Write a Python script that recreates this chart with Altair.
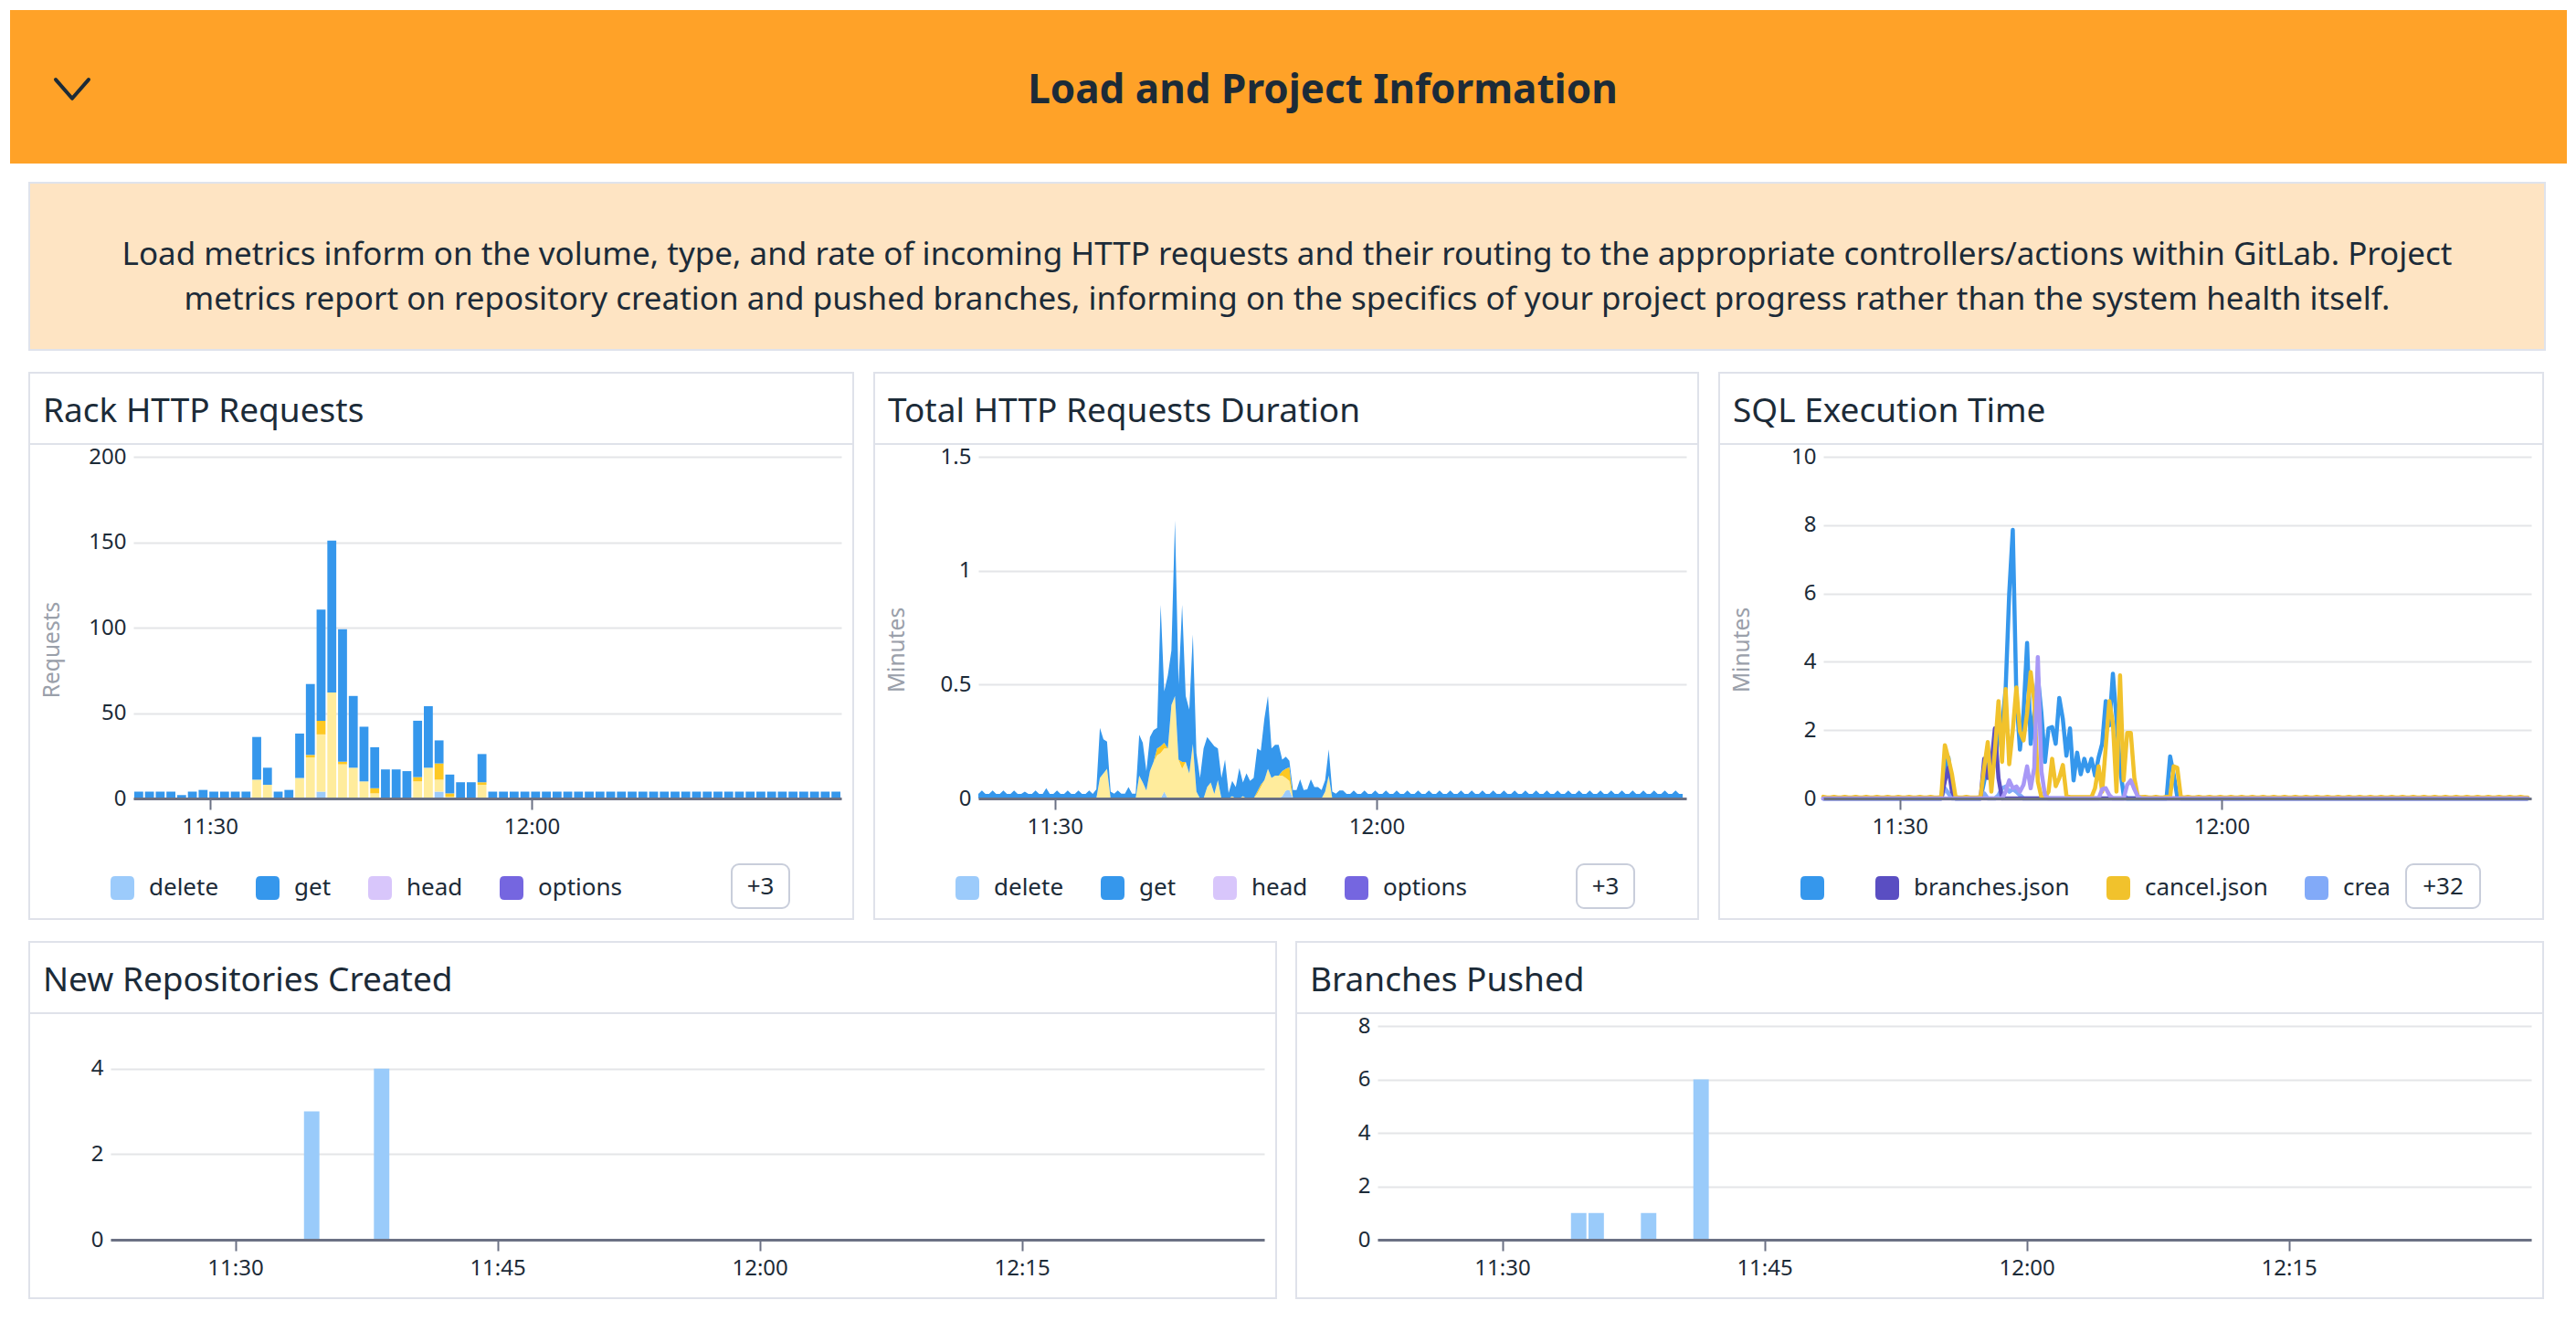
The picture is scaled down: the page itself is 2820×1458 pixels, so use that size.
import altair as alt
import pandas as pd

# ---------------------------------------------------------------- styling
FONT = "Noto Sans"
DARK = "#1c2b38"
GRAYTXT = "#9aa0aa"
BORDER = "#dfe2ea"
GRID = "#e4e5e8"
AXISC = "#6b7184"
ORANGE = "#ffa228"
NOTE_BG = "#fee4c3"
NOTE_BORDER = "#dfe3ec"
BTN_BORDER = "#c9cedb"
BAR_BLUE = "#9acbfa"

# ---------------------------------------------------------------- texts
HEADER_TITLE = "Load and Project Information"
NOTE_LINES = [
    "Load metrics inform on the volume, type, and rate of incoming HTTP requests and their routing to the appropriate controllers/actions within GitLab. Project",
    "metrics report on repository creation and pushed branches, informing on the specifics of your project progress rather than the system health itself.",
]
PANEL_TITLES = ["Rack HTTP Requests", "Total HTTP Requests Duration", "SQL Execution Time",
                "New Repositories Created", "Branches Pushed"]

# ---------------------------------------------------------------- time grid
START = pd.Timestamp("2024-05-14 11:22:52")
N_MIN = 66
minute_starts = list(pd.date_range(START, periods=N_MIN, freq="1min"))
sample_times = list(pd.date_range(START, periods=3 * N_MIN, freq="20s"))


def dt(h, m, s=0):
    return alt.DateTime(year=2024, month=5, date=14, hours=h, minutes=m, seconds=s)


X_DOMAIN = [dt(11, 22, 52), dt(12, 28, 52)]
TOP_TICKS = [dt(11, 30), dt(12, 0)]
BOTTOM_TICKS = [dt(11, 30), dt(11, 45), dt(12, 0), dt(12, 15)]

# ---------------------------------------------------------------- categories
METHODS = ["delete", "get", "head", "options", "patch", "post", "put"]
METHOD_COLORS = ["#9ccbfb", "#3597ec", "#d8c6fb", "#7566e0", "#57c2b9", "#ffec9c", "#fdc823"]
METHOD_LEGEND = ["delete", "get", "head", "options"]

SQL_SERIES = ["", "branches.json", "cancel.json", "create.json", "show.json"]
SQL_COLORS = ["#3597ec", "#5a4ec2", "#f1c22c", "#82aaf8", "#a898f6"]
SQL_LEGEND = ["", "branches.json", "cancel.json", "create.json"]
SQL_DRAW_ORDER = ["", "create.json", "branches.json", "cancel.json", "show.json"]

# ---------------------------------------------------------------- Rack HTTP Requests (per minute)
rack_get = [
    4, 4, 4, 4, 2, 4, 5, 4, 4, 4, 4,
    25, 10, 4, 5, 26, 41.5, 65, 89, 77.5, 42, 32, 24, 17, 17, 16, 33, 36, 13.5, 11, 9.5, 9.5, 16.5,
    4, 4, 4, 4, 4, 4, 4, 4, 4, 4, 4, 4, 4, 4, 4, 4, 4, 4, 4, 4, 4, 4, 4, 4, 4, 4, 4, 4, 4, 4, 4, 4, 4,
]
rack_post = {11: 11, 12: 8, 15: 12, 16: 24, 17: 33.5, 18: 62, 19: 20, 20: 18, 21: 10, 22: 3,
             26: 10, 27: 18, 28: 7, 29: 1, 32: 8}
rack_put = {16: 1.5, 17: 8, 19: 1.5, 22: 3, 26: 2.5, 28: 9.5, 29: 2, 32: 1.5}
rack_delete = {17: 4, 28: 4}

# ---------------------------------------------------------------- Total HTTP Requests Duration (20 s samples)
dur_total = [
    0.02, 0.035, 0.02,  0.02, 0.035, 0.02,  0.02, 0.035, 0.02,  0.02, 0.035, 0.02,
    0.02, 0.03, 0.02,   0.02, 0.035, 0.02,  0.02, 0.045, 0.02,  0.02, 0.035, 0.02,
    0.02, 0.035, 0.02,  0.02, 0.035, 0.02,  0.02, 0.035, 0.02,
    0.04, 0.31, 0.26,   0.25, 0.03, 0.021,  0.035, 0.021, 0.021,  0.05, 0.021, 0.021,
    0.28, 0.245, 0.12,  0.27, 0.30, 0.31,   0.85, 0.47, 0.54,   0.65, 1.22, 0.50,
    0.85, 0.45, 0.39,   0.72, 0.20, 0.09,   0.22, 0.27, 0.25,   0.23, 0.22, 0.09,
    0.17, 0.024, 0.077, 0.05, 0.133, 0.07,  0.11, 0.077, 0.09,  0.22, 0.21, 0.35,
    0.45, 0.22, 0.236,  0.236, 0.17, 0.183, 0.165, 0.037, 0.037, 0.084, 0.037, 0.04,
    0.084, 0.05, 0.05,  0.037, 0.08, 0.216, 0.03, 0.021, 0.035,
    0.035, 0.02, 0.02,  0.035, 0.02, 0.02,  0.035, 0.02, 0.02,  0.035, 0.02, 0.02,
    0.035, 0.02, 0.02,  0.035, 0.02, 0.02,  0.035, 0.02, 0.02,  0.035, 0.02, 0.02,
    0.035, 0.02, 0.02,  0.035, 0.02, 0.02,  0.035, 0.02, 0.02,  0.035, 0.02, 0.02,
    0.035, 0.02, 0.02,  0.035, 0.02, 0.02,  0.035, 0.02, 0.02,  0.035, 0.02, 0.02,
    0.035, 0.02, 0.02,  0.035, 0.02, 0.02,  0.035, 0.02, 0.02,  0.035, 0.02, 0.02,
    0.035, 0.02, 0.02,  0.035, 0.02, 0.02,  0.035, 0.02, 0.02,  0.035, 0.02, 0.02,
    0.035, 0.02, 0.02,  0.035, 0.02, 0.02,  0.035, 0.02, 0.02,  0.035, 0.02, 0.02,
    0.035, 0.02, 0.02,  0.035, 0.02, 0.02,  0.035, 0.02, 0.02,  0.035, 0.02, 0.02,
]
dur_post = {34: 0.09, 35: 0.11, 36: 0.13, 45: 0.10, 46: 0.07, 47: 0.035, 48: 0.12, 49: 0.16,
            50: 0.19, 51: 0.20, 52: 0.19, 53: 0.22, 54: 0.41, 55: 0.45, 56: 0.17, 57: 0.13,
            58: 0.16, 59: 0.11, 60: 0.24, 61: 0.03, 64: 0.05, 65: 0.07, 66: 0.02, 67: 0.08,
            71: 0.01, 74: 0.01, 78: 0.02, 79: 0.05, 80: 0.08, 81: 0.13, 82: 0.09, 83: 0.10,
            84: 0.10, 85: 0.09, 86: 0.055, 87: 0.04, 97: 0.03, 98: 0.10}
dur_put = {50: 0.03, 51: 0.03, 52: 0.025, 57: 0.03, 78: 0.01, 79: 0.01, 85: 0.02, 86: 0.04, 87: 0.06}
dur_delete = {52: 0.03, 85: 0.01, 86: 0.035, 87: 0.037}

# ---------------------------------------------------------------- SQL Execution Time (20 s samples)
sql_blank = {34: 0.9, 35: 1.2, 36: 0.3, 45: 0.5, 46: 1.0, 47: 0.6, 48: 1.2, 49: 1.8, 50: 2.1,
             51: 3.2, 52: 6.0, 53: 7.86, 54: 3.0, 55: 1.43, 56: 2.5, 57: 4.55, 58: 1.6, 59: 2.5,
             60: 3.57, 61: 2.5, 62: 1.07, 63: 2.05, 64: 2.09, 65: 1.6, 66: 2.94, 67: 2.32,
             68: 1.25, 69: 2.05, 70: 0.53, 71: 1.34, 72: 0.71, 73: 1.16, 74: 0.8, 75: 1.16,
             76: 0.67, 77: 1.2, 78: 1.6, 79: 2.85, 80: 2.14, 81: 3.65, 82: 2.32, 83: 0.9,
             84: 0.1, 97: 1.23, 98: 0.7, 99: 0.05}
sql_branches = {34: 0.5, 35: 0.9, 36: 0.2, 45: 1.16, 46: 0.6, 47: 1.0, 48: 2.05, 49: 0.6}
sql_create = {34: 0.3, 35: 0.15, 45: 0.15, 49: 0.1, 50: 0.3, 51: 0.35, 52: 0.2, 53: 0.27,
              54: 0.2, 55: 0.1}
sql_show = {51: 0.2, 52: 0.53, 53: 0.3, 54: 0.35, 55: 0.2, 56: 0.4, 57: 0.94, 58: 0.3,
            59: 0.9, 60: 4.14, 61: 0.8, 62: 0.1, 78: 0.27, 79: 0.3, 80: 0.1, 85: 0.4,
            86: 0.53, 87: 0.27, 88: 0.05}
sql_cancel = [
    0.05, 0.03, 0.03,  0.05, 0.03, 0.03,  0.05, 0.03, 0.03,  0.05, 0.03, 0.03,
    0.05, 0.03, 0.03,  0.05, 0.03, 0.03,  0.05, 0.03, 0.03,  0.05, 0.03, 0.03,
    0.05, 0.03, 0.03,  0.05, 0.03, 0.03,  0.05, 0.03, 0.03,
    0.05, 1.56, 1.16,  0.7, 0.04, 0.03,   0.03, 0.05, 0.03,  0.03, 0.03, 0.05,
    0.9, 1.65, 0.2,    1.4, 2.85, 1.07,   3.2, 1.0, 2.0,     3.25, 1.96, 1.7,
    2.5, 3.7, 2.85,    0.5, 0.04, 0.04,   0.2, 1.16, 0.36,   0.6, 0.98, 0.09,
    0.04, 0.04, 0.04,  0.04, 0.04, 0.04,  0.04, 0.3, 0.94,   0.2, 1.5, 2.85,
    2.2, 0.2, 3.6,     0.53, 1.92, 1.92,  0.6, 0.04, 0.04,   0.05, 0.03, 0.03,
    0.05, 0.03, 0.03,  0.05, 0.04, 0.94,  0.9, 0.04, 0.03,
    0.05, 0.03, 0.03,  0.05, 0.03, 0.03,  0.05, 0.03, 0.03,  0.05, 0.03, 0.03,
    0.05, 0.03, 0.03,  0.05, 0.03, 0.03,  0.05, 0.03, 0.03,  0.05, 0.03, 0.03,
    0.05, 0.03, 0.03,  0.05, 0.03, 0.03,  0.05, 0.03, 0.03,  0.05, 0.03, 0.03,
    0.05, 0.03, 0.03,  0.05, 0.03, 0.03,  0.05, 0.03, 0.03,  0.05, 0.03, 0.03,
    0.05, 0.03, 0.03,  0.05, 0.03, 0.03,  0.05, 0.03, 0.03,  0.05, 0.03, 0.03,
    0.05, 0.03, 0.03,  0.05, 0.03, 0.03,  0.05, 0.03, 0.03,  0.05, 0.03, 0.03,
    0.05, 0.03, 0.03,  0.05, 0.03, 0.03,  0.05, 0.03, 0.03,  0.05, 0.03, 0.03,
    0.05, 0.03, 0.03,  0.05, 0.03, 0.03,  0.05, 0.03, 0.03,  0.05, 0.03, 0.03,
]

# ---------------------------------------------------------------- project counts (per minute)
new_repos = {11: 3, 15: 4}
branches_pushed = {11: 1, 12: 1, 15: 1, 18: 6}


def sparse(d, n):
    return [d.get(i, 0) for i in range(n)]


# ---------------------------------------------------------------- tables
def stacked_rows(times, order, series, off0, off1, keep_zero):
    rows = []
    for k, t in enumerate(times):
        base = 0.0
        for name in order:
            v = series[name][k]
            if v > 0 or keep_zero:
                rows.append({"t0": t + off0, "t1": t + off1, "series": name,
                             "y0": base, "y1": base + v})
            base += v
    return pd.DataFrame(rows)


rack_series = {"delete": sparse(rack_delete, N_MIN), "post": sparse(rack_post, N_MIN),
               "put": sparse(rack_put, N_MIN), "get": rack_get}
rack_df = stacked_rows(minute_starts, ["delete", "post", "put", "get"], rack_series,
                       pd.Timedelta(seconds=5), pd.Timedelta(seconds=55), False)

n_s = 3 * N_MIN
d_del, d_post, d_put = sparse(dur_delete, n_s), sparse(dur_post, n_s), sparse(dur_put, n_s)
d_get = [max(tot - a - b - c, 0.004) for tot, a, b, c in zip(dur_total, d_del, d_post, d_put)]
dur_series = {"delete": d_del, "post": d_post, "put": d_put, "get": d_get}
dur_df = stacked_rows(sample_times, ["delete", "post", "put", "get"], dur_series,
                      pd.Timedelta(0), pd.Timedelta(0), True)

sql_values = {"": sparse(sql_blank, n_s), "branches.json": sparse(sql_branches, n_s),
              "cancel.json": sql_cancel, "create.json": sparse(sql_create, n_s),
              "show.json": sparse(sql_show, n_s)}


def count_df(d):
    return pd.DataFrame([{"t0": minute_starts[k] + pd.Timedelta(seconds=4),
                          "t1": minute_starts[k] + pd.Timedelta(seconds=57), "v": v}
                         for k, v in d.items()])


# ---------------------------------------------------------------- guides
ROUNDED = "M-1,-0.6 Q-1,-1 -0.6,-1 L0.6,-1 Q1,-1 1,-0.6 L1,0.6 Q1,1 0.6,1 L-0.6,1 Q-1,1 -1,0.6 Z"


def x_axis(ticks):
    return alt.Axis(values=ticks, format="%H:%M", title=None, grid=False, labelFontSize=24,
                    labelColor=DARK, labelFont=FONT, tickSize=12, tickColor=AXISC, tickWidth=2,
                    domainColor=AXISC, domainWidth=3, labelPadding=7, zindex=1)


def y_axis(ticks, title=None):
    kw = dict(values=ticks, grid=True, gridColor=GRID, gridWidth=2, domain=False, ticks=False,
              labelFontSize=24, labelColor=DARK, labelFont=FONT, labelPadding=8, format="~r")
    if title:
        kw.update(title=title, titleFontSize=24.5, titleColor=GRAYTXT, titleFont=FONT,
                  titleFontWeight="normal", titleX=-89, titleY=211, titleAngle=270,
                  titleAlign="center", titleBaseline="middle")
    else:
        kw.update(title=None)
    return alt.Axis(**kw)


def legend(values, label_expr=None):
    kw = dict(values=values, orient="none", legendX=-25, legendY=459, direction="horizontal",
              columns=len(values), title=None, symbolType=ROUNDED, symbolSize=676,
              symbolStrokeWidth=0, symbolOpacity=1, labelFont=FONT, labelFontSize=26,
              labelColor=DARK, labelOffset=16, columnPadding=40, padding=0, labelLimit=600)
    if label_expr:
        kw["labelExpr"] = label_expr
    return alt.Legend(**kw)


ONE = alt.Data(values=[{}])

TOP_W, TOP_H = 775, 374
TOP_PAD = (114, 13, 92, 132)
BOT_W, BOT_H = 1263, 234
BOT_PAD = (89, 13, 92, 64)


def panel(data_layers, w, h, pad, title, button=None):
    left, right, top, bottom = pad
    fx0, fx1, fy0, fy1 = -left, w + right, -top, h + bottom
    frame = alt.Chart(ONE).mark_rect(fill="#ffffff", fillOpacity=0, stroke=BORDER,
                                     strokeWidth=2).encode(
        x=alt.value(fx0), x2=alt.value(fx1), y=alt.value(fy0), y2=alt.value(fy1))
    sep = alt.Chart(ONE).mark_rule(color=BORDER, strokeWidth=2).encode(
        x=alt.value(fx0), x2=alt.value(fx1), y=alt.value(fy0 + 78))
    ttl = alt.Chart(ONE).mark_text(text=title, align="left", baseline="alphabetic", font=FONT,
                                   fontSize=37, color=DARK).encode(
        x=alt.value(fx0 + 15), y=alt.value(fy0 + 54))
    layers = data_layers + [frame, sep, ttl]
    if button:
        label, bx0, bx1 = button
        layers.append(alt.Chart(ONE).mark_rect(fill="white", stroke=BTN_BORDER, strokeWidth=2,
                                               cornerRadius=8).encode(
            x=alt.value(bx0), x2=alt.value(bx1), y=alt.value(446), y2=alt.value(494)))
        layers.append(alt.Chart(ONE).mark_text(text=label, font=FONT, fontSize=26, color=DARK,
                                               align="center", baseline="middle").encode(
            x=alt.value((bx0 + bx1) / 2), y=alt.value(471)))
    return alt.layer(*layers).properties(width=w, height=h)


method_scale = alt.Scale(domain=METHODS, range=METHOD_COLORS)
sql_scale = alt.Scale(domain=SQL_SERIES, range=SQL_COLORS)
xs = alt.Scale(domain=X_DOMAIN)

# ---- Rack HTTP Requests
rack_bars = alt.Chart(rack_df).mark_bar().encode(
    x=alt.X("t0:T", scale=xs, axis=x_axis(TOP_TICKS)),
    x2="t1:T",
    y=alt.Y("y1:Q", scale=alt.Scale(domain=[0, 200], nice=False),
            axis=y_axis([0, 50, 100, 150, 200], "Requests")),
    y2="y0:Q",
    color=alt.Color("series:N", scale=method_scale, legend=legend(METHOD_LEGEND)),
)
p1 = panel([rack_bars], TOP_W, TOP_H, TOP_PAD, PANEL_TITLES[0], ("+3", 655, 718))

# ---- Total HTTP Requests Duration
dur_area = alt.Chart(dur_df).mark_area(interpolate="linear").encode(
    x=alt.X("t0:T", scale=xs, axis=x_axis(TOP_TICKS)),
    y=alt.Y("y1:Q", scale=alt.Scale(domain=[0, 1.5], nice=False),
            axis=y_axis([0, 0.5, 1, 1.5], "Minutes"), stack=None),
    y2="y0:Q",
    color=alt.Color("series:N", scale=method_scale, legend=legend(METHOD_LEGEND)),
)
p2 = panel([dur_area], TOP_W, TOP_H, TOP_PAD, PANEL_TITLES[1], ("+3", 655, 718))

# ---- SQL Execution Time: a hidden filled key layer first (it owns the legend), then lines
sql_key = alt.Chart(pd.DataFrame({"series": SQL_SERIES})).mark_square(opacity=0, size=1).encode(
    x=alt.value(0), y=alt.value(0),
    color=alt.Color("series:N", scale=sql_scale,
                    legend=legend(SQL_LEGEND, "datum.label == 'create.json' ? 'crea' : datum.label")))
sql_layers = [sql_key]
for name in SQL_DRAW_ORDER:
    df = pd.DataFrame({"t": sample_times, "series": name, "v": sql_values[name]})
    sql_layers.append(alt.Chart(df).mark_line(strokeWidth=4.5, strokeJoin="round",
                                              strokeCap="round").encode(
        x=alt.X("t:T", scale=xs, axis=x_axis(TOP_TICKS)),
        y=alt.Y("v:Q", scale=alt.Scale(domain=[0, 10], nice=False),
                axis=y_axis([0, 2, 4, 6, 8, 10], "Minutes")),
        color=alt.Color("series:N", scale=sql_scale),
    ))
p3 = panel(sql_layers, TOP_W, TOP_H, TOP_PAD, PANEL_TITLES[2], ("+32", 638, 719))


# ---- bottom panels
def count_panel(d, ymax, ticks, title):
    bars = alt.Chart(count_df(d)).mark_bar(color=BAR_BLUE).encode(
        x=alt.X("t0:T", scale=xs, axis=x_axis(BOTTOM_TICKS)),
        x2="t1:T",
        y=alt.Y("v:Q", scale=alt.Scale(domain=[0, ymax], nice=False), axis=y_axis(ticks)),
        y2=alt.datum(0),
    )
    return panel([bars], BOT_W, BOT_H, BOT_PAD, title)


b1 = count_panel(new_repos, 5, [0, 2, 4], PANEL_TITLES[3])
b2 = count_panel(branches_pushed, 8, [0, 2, 4, 6, 8], PANEL_TITLES[4])

# ---------------------------------------------------------------- header + note
header_title = alt.Chart(ONE).mark_text(text=HEADER_TITLE, font=FONT, fontSize=44,
                                        fontWeight="bold", color=DARK, align="center",
                                        baseline="alphabetic").encode(
    x=alt.value(1437), y=alt.value(102))
chevron = alt.Chart(ONE).mark_point(shape="M-1,-0.55 L0,0.6 L1,-0.55", filled=False, size=1296,
                                    strokeWidth=4, color=DARK, opacity=1, strokeCap="round",
                                    strokeJoin="round").encode(
    x=alt.value(68), y=alt.value(86))
header = alt.layer(header_title, chevron).properties(
    width=2799, height=168, view=alt.ViewBackground(fill=ORANGE, strokeWidth=0))

note_layers = [
    alt.Chart(ONE).mark_text(text=line, font=FONT, fontSize=35, color=DARK, align="center",
                             baseline="alphabetic").encode(x=alt.value(1377), y=alt.value(yy))
    for line, yy in zip(NOTE_LINES, [90, 139])
]
note = alt.layer(*note_layers).properties(
    width=2754, height=183,
    view=alt.ViewBackground(fill=NOTE_BG, stroke=NOTE_BORDER, strokeWidth=2))


# ---------------------------------------------------------------- layout
# Each row starts with a 1px spacer so that every row shares the same origin as the header;
# the spacer + spacing give the 20px inset of the card body.
def spacer():
    return alt.Chart(ONE).mark_rect(fill="white").encode(
        x=alt.value(0), x2=alt.value(1), y=alt.value(0), y2=alt.value(1)
    ).properties(width=1, height=1)


note_row = alt.hconcat(spacer(), note, spacing=19)
top_row = alt.hconcat(spacer(),
                      alt.hconcat(p1, p2, p3, spacing=21).resolve_scale(color="independent"),
                      spacing=19).resolve_scale(color="independent")
bottom_row = alt.hconcat(spacer(),
                         alt.hconcat(b1, b2, spacing=20).resolve_scale(color="independent"),
                         spacing=19).resolve_scale(color="independent")
body = alt.vconcat(note_row, top_row, bottom_row, spacing=23).resolve_scale(color="independent")

chart = alt.vconcat(header, body, spacing=20).resolve_scale(
    color="independent").properties(
    padding={"left": 3, "top": 3, "right": 0, "bottom": 0}, background="white"
).configure(font=FONT).configure_view(strokeWidth=0)

chart.save("out.html", embed_options={"renderer": "svg", "actions": False})
